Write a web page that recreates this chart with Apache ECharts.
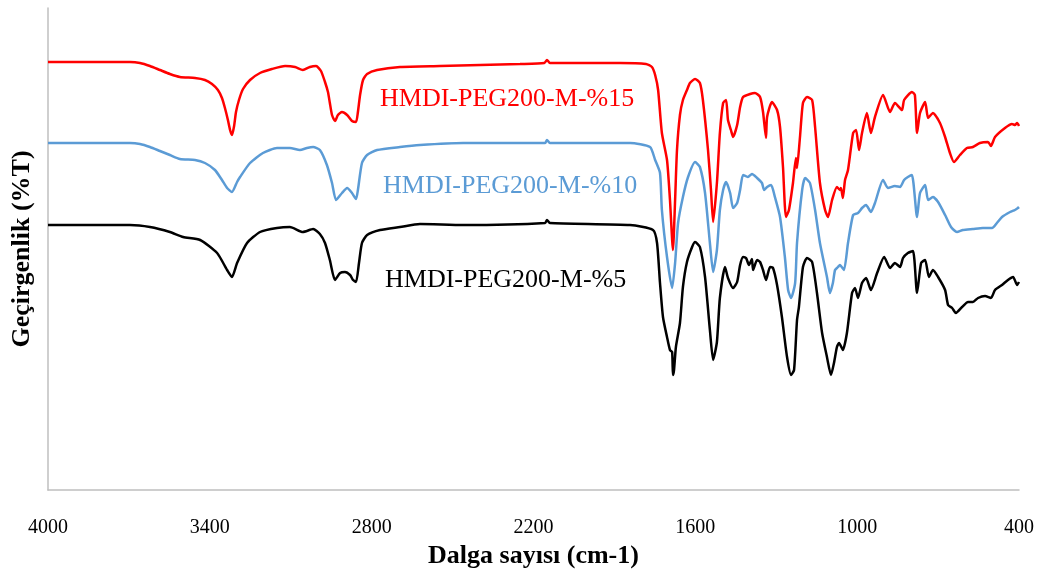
<!DOCTYPE html>
<html>
<head>
<meta charset="utf-8">
<title>FTIR</title>
<script src="https://cdn.jsdelivr.net/npm/echarts@6/dist/echarts.min.js"></script>
<style>
  html, body { margin: 0; padding: 0; background: #fff; }
  #main { width: 1049px; height: 576px; }
</style>
</head>
<body>
<div id="main"></div>
<script>
// spektrum verileri: [dalga sayisi (cm-1), gecirgenlik (keyfi birim)]
var peg15 = [
    [4000,428],[3696,428],[3659,427],[3622,424],[3585,420],[3548,416],[3511,413],[3455,412],[3418,410],[3392,406],
    [3370,400],[3355,392],[3344,382],[3333,370],[3325,360],[3318,355],[3310,364],[3303,378],[3292,390],[3277,401],
    [3251,410],[3214,417],[3170,421],[3121,424],[3084,423],[3055,420],[3029,423],[3006,424],[2988,419],[2973,408],
    [2962,398],[2955,387],[2947,375],[2936,369],[2925,375],[2910,378],[2891,375],[2873,369],[2858,368],[2851,378],
    [2843,395],[2832,410],[2817,416],[2780,420],[2695,423],[2547,424],[2398,425],[2250,426],[2160,427],[2150,430],
    [2139,427],[2028,427],[1879,427],[1783,426],[1761,423],[1749,415],[1738,400],[1724,357],[1705,330],[1694,290],
    [1683,240],[1675,290],[1668,340],[1657,375],[1646,390],[1631,400],[1620,407],[1601,411],[1583,407],[1572,390],
    [1553,340],[1542,300],[1534,268],[1520,307],[1509,357],[1497,387],[1486,390],[1479,370],[1468,360],[1460,353],
    [1445,365],[1434,383],[1423,393],[1397,396],[1379,397],[1360,393],[1349,378],[1338,352],[1334,373],[1316,388],
    [1297,380],[1286,363],[1275,323],[1264,273],[1253,280],[1238,307],[1227,332],[1223,322],[1212,353],[1201,387],
    [1186,393],[1167,390],[1156,363],[1138,307],[1119,280],[1108,273],[1093,290],[1075,303],[1064,300],[1060,302],
    [1053,292],[1045,310],[1034,320],[1015,357],[1004,360],[993,340],[982,357],[964,377],[949,357],[934,373],
    [904,395],[878,378],[860,387],[834,380],[826,390],[797,398],[786,395],[778,357],[767,377],[748,388],
    [737,372],[719,377],[693,367],[674,353],[656,337],[641,328],[619,335],[593,342],[571,343],[545,347],
    [515,348],[504,344],[489,353],[452,362],[426,366],[415,365],[407,367],[400,364]
];

var peg10 = [
    [4000,347],[3696,347],[3659,346],[3622,343],[3585,339],[3548,335],[3511,331],[3455,330],[3418,327],[3381,320],
    [3355,310],[3336,302],[3318,298],[3299,308],[3288,313],[3251,327],[3203,337],[3151,342],[3103,342],[3066,340],
    [3040,342],[3017,343],[2992,340],[2966,325],[2947,307],[2932,290],[2910,297],[2891,302],[2873,297],[2858,291],
    [2851,300],[2836,327],[2817,335],[2780,340],[2695,343],[2621,345],[2461,347],[2157,347],[2150,350],[2139,347],
    [1842,347],[1768,343],[1749,330],[1731,317],[1724,280],[1705,233],[1686,202],[1675,227],[1664,267],[1646,293],
    [1627,313],[1601,328],[1583,323],[1564,297],[1546,247],[1534,218],[1520,240],[1509,280],[1497,300],[1486,308],
    [1471,297],[1460,282],[1445,287],[1434,300],[1423,315],[1405,313],[1390,316],[1371,312],[1353,307],[1345,300],
    [1334,303],[1319,305],[1305,293],[1286,273],[1268,233],[1256,200],[1245,192],[1230,207],[1223,247],[1204,300],
    [1193,312],[1175,307],[1156,280],[1138,247],[1112,213],[1101,197],[1090,207],[1082,220],[1071,223],[1064,225],
    [1049,220],[1034,247],[1015,275],[997,277],[982,282],[967,285],[949,278],[934,287],[904,310],[886,302],
    [860,304],[841,303],[826,310],[812,313],[797,315],[778,273],[767,297],[748,305],[737,290],[719,293],
    [700,288],[674,275],[652,263],[630,258],[608,260],[571,261],[534,262],[500,262],[482,267],[463,273],
    [433,278],[415,280],[404,282],[400,283]
];

var peg5 = [
    [4000,265],[3696,265],[3622,263],[3548,258],[3499,253],[3436,250],[3373,237],[3336,220],[3318,213],[3299,227],
    [3262,247],[3214,258],[3151,262],[3103,263],[3055,258],[3017,261],[2992,256],[2973,247],[2955,230],[2936,210],
    [2917,217],[2899,218],[2880,215],[2869,210],[2858,208],[2847,227],[2836,247],[2817,255],[2769,260],[2695,263],
    [2621,266],[2461,265],[2157,267],[2150,270],[2139,267],[1842,265],[1757,260],[1742,247],[1731,207],[1720,173],
    [1705,153],[1694,140],[1686,138],[1683,115],[1679,120],[1672,143],[1657,167],[1646,203],[1631,228],[1612,243],
    [1601,248],[1583,243],[1564,213],[1546,160],[1534,130],[1520,148],[1509,192],[1490,223],[1479,212],[1460,202],
    [1445,208],[1434,225],[1423,233],[1412,232],[1401,225],[1390,231],[1386,220],[1371,230],[1360,228],[1349,220],
    [1338,210],[1323,223],[1312,222],[1297,205],[1279,173],[1260,133],[1245,115],[1234,120],[1223,170],[1216,183],
    [1201,223],[1186,232],[1167,228],[1149,197],[1130,157],[1112,133],[1097,115],[1086,127],[1075,143],[1067,147],
    [1053,140],[1038,157],[1019,197],[1008,202],[997,192],[982,207],[967,212],[949,200],[926,217],[900,233],
    [878,222],[860,227],[841,223],[830,232],[812,237],[793,239],[778,197],[763,227],[748,230],[734,213],
    [719,220],[700,213],[674,200],[663,185],[648,182],[634,177],[611,183],[589,188],[571,188],[552,192],
    [526,194],[504,192],[489,200],[463,205],[441,210],[422,213],[407,205],[400,208]
];

var seriesNames = ["HMDI-PEG200-M-%15", "HMDI-PEG200-M-%10", "HMDI-PEG200-M-%5"];
var seriesColors = ["#ff0000", "#5b9bd5", "#000000"];

var fontFamily = '"Liberation Serif", "Times New Roman", serif';

var myChart = echarts.init(document.getElementById('main'));

function makeLine(name, data, color) {
    return {
        name: name,
        type: 'line',
        data: data,
        showSymbol: false,
        smooth: 0.2,
        lineStyle: { color: color, width: 2.5 },
        itemStyle: { color: color }
    };
}

myChart.setOption({
    animation: false,
    backgroundColor: '#fff',
    grid: { left: 48, right: 30, top: 8, bottom: 86 },
    xAxis: {
        type: 'value',
        inverse: true,
        min: 400,
        max: 4000,
        interval: 600,
        name: 'Dalga sayısı (cm-1)',
        nameLocation: 'middle',
        nameGap: 53,
        nameTextStyle: { fontFamily: fontFamily, fontSize: 26, fontWeight: 'bold', color: '#000' },
        axisLine: { show: true, lineStyle: { color: '#bfbfbf', width: 1.5 } },
        axisTick: { show: false },
        splitLine: { show: false },
        axisLabel: {
            fontFamily: fontFamily, fontSize: 20, color: '#000', margin: 28,
            formatter: function (v) { return String(v); }
        }
    },
    yAxis: {
        type: 'value',
        min: 0,
        max: 482,
        name: 'Geçirgenlik (%T)',
        nameLocation: 'middle',
        nameGap: 13,
        nameTextStyle: { fontFamily: fontFamily, fontSize: 26, fontWeight: 'bold', color: '#000' },
        axisLine: { show: true, lineStyle: { color: '#bfbfbf', width: 1.5 } },
        axisTick: { show: false },
        axisLabel: { show: false },
        splitLine: { show: false }
    },
    graphic: [
        { type: 'text', left: 380, top: 86, style: { text: seriesNames[0], fill: seriesColors[0], font: '26px ' + fontFamily } },
        { type: 'text', left: 383, top: 173, style: { text: seriesNames[1], fill: seriesColors[1], font: '26px ' + fontFamily } },
        { type: 'text', left: 385, top: 267, style: { text: seriesNames[2], fill: seriesColors[2], font: '26px ' + fontFamily } }
    ],
    series: [
        makeLine(seriesNames[0], peg15, seriesColors[0]),
        makeLine(seriesNames[1], peg10, seriesColors[1]),
        makeLine(seriesNames[2], peg5, seriesColors[2])
    ]
});
</script>
</body>
</html>
